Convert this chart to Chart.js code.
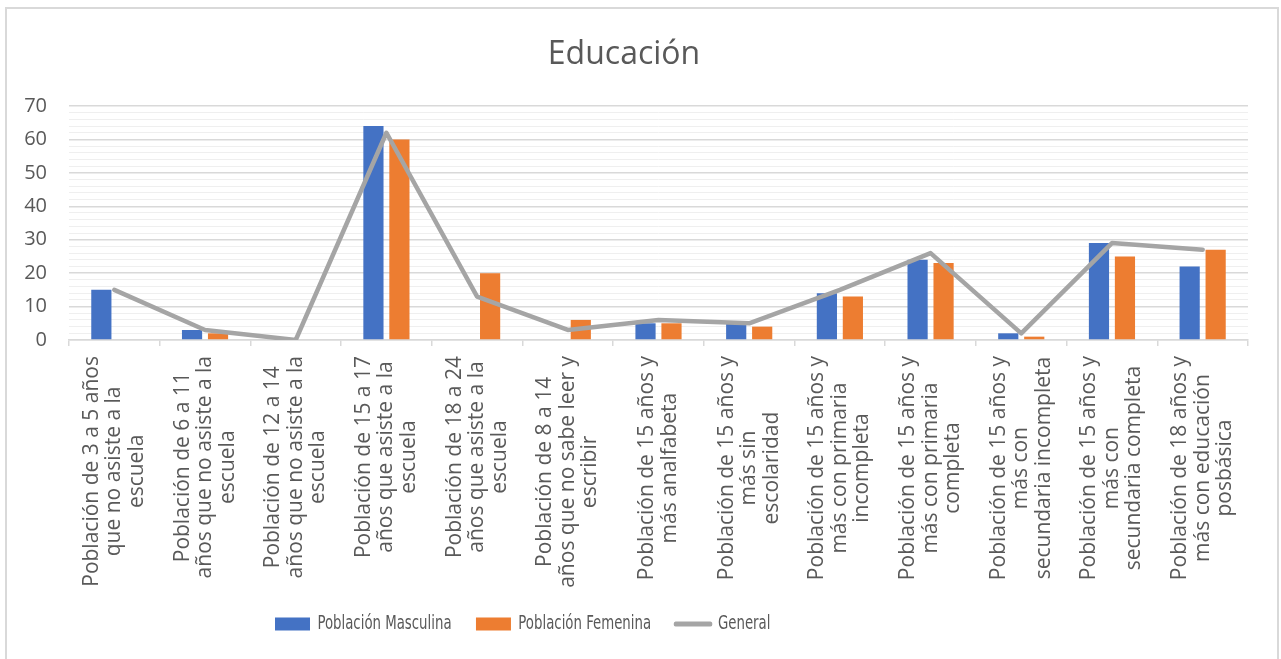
<!DOCTYPE html>
<html>
<head>
<meta charset="utf-8">
<script src="https://cdn.jsdelivr.net/npm/chart.js@4.4.1/dist/chart.umd.min.js"></script>
<style>
  html, body { margin: 0; padding: 0; background: #ffffff; overflow: hidden; }
  #wrap { position: relative; width: 1281px; height: 659px; }
  #frame { position: absolute; left: 5px; top: 7px; width: 1274px; height: 700px; border: 2px solid #d9d9d9; box-sizing: border-box; pointer-events: none; }
  canvas { position: absolute; left: 0; top: 0; }
</style>
</head>
<body>
<div id="wrap">
  <canvas id="c" width="1281" height="659"></canvas>
  <div id="frame"></div>
</div>
<script>
// ---- data ----
const chartTitle = 'Educación';
const categories = [
  ['Población de 3 a 5 años', 'que no asiste a la', 'escuela'],
  ['Población de 6 a 11', 'años que no asiste a la', 'escuela'],
  ['Población de 12 a 14', 'años que no asiste a la', 'escuela'],
  ['Población de 15 a 17', 'años que asiste a la', 'escuela'],
  ['Población de 18 a 24', 'años que asiste a la', 'escuela'],
  ['Población de 8 a 14', 'años que no sabe leer y', 'escribir'],
  ['Población de 15 años y', 'más analfabeta'],
  ['Población de 15 años y', 'más sin', 'escolaridad'],
  ['Población de 15 años y', 'más con primaria', 'incompleta'],
  ['Población de 15 años y', 'más con primaria', 'completa'],
  ['Población de 15 años y', 'más con', 'secundaria incompleta'],
  ['Población de 15 años y', 'más con', 'secundaria completa'],
  ['Población de 18 años y', 'más con educación', 'posbásica']
];
const seriesNames = ['Población Masculina', 'Población Femenina', 'General'];
const masculina = [15, 3, 0, 64, 0, 0, 5, 5, 14, 24, 2, 29, 22];
const femenina  = [0, 2, 0, 60, 20, 6, 5, 4, 13, 23, 1, 25, 27];
const general   = [15, 3, 0, 62, 13, 3, 6, 5, 15, 26, 2, 29, 27];
const yMin = 0, yMax = 70, yMajorStep = 10, yMinorStep = 2;

// ---- styling ----
const TEXT = '#595959';
const FONT = '"Open Sans", "Noto Sans", sans-serif';
const LEGEND_FONT = '"DejaVu Sans Condensed", "Open Sans", sans-serif';
const LEGEND_SIZE = 20;
const LEGEND_SQUEEZE = 0.74;
const LEGEND_X = 275;

const xLabelPlugin = {
  id: 'xLabels',
  afterDraw(chart) {
    const ctx = chart.ctx;
    const xs = chart.scales.x;
    const lineH = 22.5;
    ctx.save();
    ctx.font = '21px ' + FONT;
    ctx.fillStyle = TEXT;
    ctx.textBaseline = 'middle';
    ctx.textAlign = 'center';
    chart.data.labels.forEach((lines, i) => {
      const x = xs.getPixelForValue(i);
      const maxW = Math.max(...lines.map(l => ctx.measureText(l).width));
      ctx.save();
      ctx.translate(x, xs.top + 16);
      ctx.rotate(-Math.PI / 2);
      lines.forEach((l, j) => {
        ctx.fillText(l, -maxW / 2, (j - (lines.length - 1) / 2) * lineH);
      });
      ctx.restore();
    });
    ctx.restore();
  }
};

const legendPlacePlugin = {
  id: 'legendPlace',
  afterLayout(chart) {
    const lg = chart.legend;
    if (lg) {
      const pad = lg.options.labels.padding;
      lg.left = LEGEND_X - pad;
      lg.top = 624 - pad - LEGEND_SIZE / 2;
      if (!lg._squeezed) {
        const origDraw = lg.draw.bind(lg);
        lg.draw = function () {
          const ctx = chart.ctx;
          ctx.save();
          ctx.translate(LEGEND_X, 0);
          ctx.scale(LEGEND_SQUEEZE, 1);
          ctx.translate(-LEGEND_X, 0);
          origDraw();
          ctx.restore();
        };
        lg._squeezed = true;
      }
    }
  }
};

new Chart(document.getElementById('c'), {
  type: 'bar',
  data: {
    labels: categories,
    datasets: [
      { label: seriesNames[0], data: masculina, backgroundColor: '#4472C4', borderWidth: 0,
        categoryPercentage: 0.573, barPercentage: 0.777, order: 1 },
      { label: seriesNames[1], data: femenina, backgroundColor: '#ED7D31', borderWidth: 0,
        categoryPercentage: 0.573, barPercentage: 0.777, order: 1 },
      { type: 'line', label: seriesNames[2], data: general, borderColor: '#A5A5A5', backgroundColor: '#A5A5A5',
        borderWidth: 4.5, pointRadius: 0, pointHoverRadius: 0, tension: 0, fill: false,
        borderJoinStyle: 'round', borderCapStyle: 'round', order: 0 }
    ]
  },
  options: {
    responsive: false,
    animation: false,
    devicePixelRatio: 1,
    layout: { padding: { left: 0, right: 33, top: 0, bottom: 0 } },
    scales: {
      x: {
        grid: { display: true, drawOnChartArea: false, drawTicks: true, tickLength: 6, color: '#d9d9d9', lineWidth: 1.5, offset: true },
        border: { display: true, color: '#d9d9d9', width: 1.5 },
        ticks: { display: false },
        afterFit(scale) {
          const lg = scale.chart.legend;
          scale.height = (659 - 340) - (lg ? lg.height : 0);
        }
      },
      y: {
        min: yMin, max: yMax,
        grid: {
          drawTicks: false,
          color: (c) => (c.tick && c.tick.value % yMajorStep === 0) ? '#d9d9d9' : '#efefef',
          lineWidth: (c) => (c.tick && c.tick.value % yMajorStep === 0) ? 1.5 : 1
        },
        border: { display: false },
        ticks: {
          stepSize: yMinorStep, autoSkip: false, padding: 22,
          color: TEXT, font: { size: 20, family: FONT },
          callback: (v) => (v % yMajorStep === 0 ? v : '')
        },
        afterFit(scale) { scale.width = 69; }
      }
    },
    plugins: {
      title: {
        display: true, text: chartTitle, color: TEXT,
        font: { size: 32, family: FONT, weight: 'normal' },
        padding: { top: 36, bottom: 31.6 }
      },
      legend: {
        position: 'bottom', align: 'start',
        labels: {
          usePointStyle: true, pointStyleWidth: 47.3, boxHeight: 13, padding: 33,
          color: TEXT, font: { size: LEGEND_SIZE, family: LEGEND_FONT },
          sort: (a, b) => a.datasetIndex - b.datasetIndex,
          generateLabels(chart) {
            const items = Chart.defaults.plugins.legend.labels.generateLabels(chart);
            items.forEach(it => {
              if (it.datasetIndex === 2) {
                it.pointStyle = 'line'; it.lineWidth = 5; it.strokeStyle = '#A5A5A5'; it.lineCap = 'round';
              } else {
                it.pointStyle = 'rect'; it.lineWidth = 0;
              }
            });
            return items;
          }
        }
      },
      tooltip: { enabled: false }
    }
  },
  plugins: [xLabelPlugin, legendPlacePlugin]
});
</script>
</body>
</html>
